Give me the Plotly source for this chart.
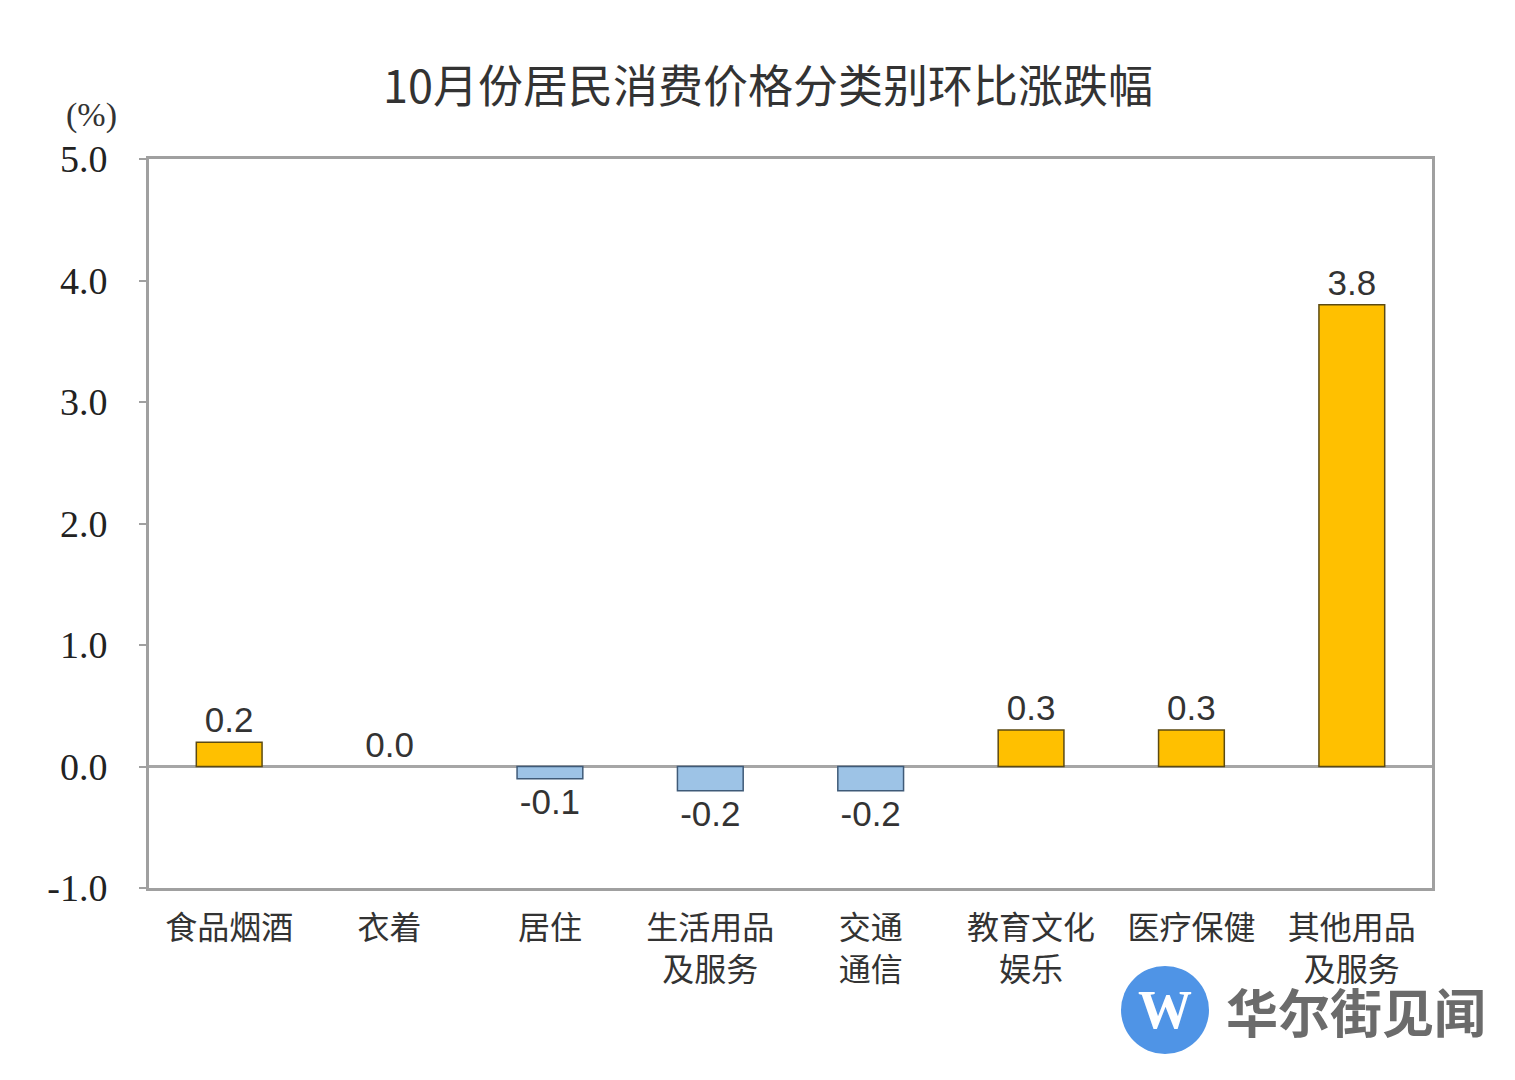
import plotly.graph_objects as go

categories = ["食品烟酒", "衣着", "居住", "生活用品<br>及服务", "交通<br>通信", "教育文化<br>娱乐", "医疗保健", "其他用品<br>及服务"]
values = [0.2, 0.0, -0.1, -0.2, -0.2, 0.3, 0.3, 3.8]
y_ticks = [-1.0, 0.0, 1.0, 2.0, 3.0, 4.0, 5.0]
y_tick_labels = ["-1.0", "0.0", "1.0", "2.0", "3.0", "4.0", "5.0"]
title_text = "10月份居民消费价格分类别环比涨跌幅"

fill_colors = ["#FFC000" if v >= 0 else "#9DC3E6" for v in values]
line_colors = ["#5c4a12" if v >= 0 else "#3f5a78" for v in values]
line_widths = [0 if v == 0 else 1.5 for v in values]

fig = go.Figure()
fig.add_trace(go.Bar(
    x=categories, y=values,
    width=0.41,
    marker=dict(color=fill_colors, line=dict(color=line_colors, width=line_widths)),
    text=[f"{v:.1f}" for v in values],
    textposition="outside",
    textfont=dict(family="Liberation Sans, Arial", size=35, color="#333333"),
    cliponaxis=False,
))

fig.update_layout(
    width=1515, height=1080,
    margin=dict(l=149, r=83, t=159, b=192),
    paper_bgcolor="white", plot_bgcolor="white",
    showlegend=False,
    bargap=0.59,
    title=dict(text=title_text, x=0.4825, xref="paper", y=1 - 87/1080, yref="container",
               xanchor="center", yanchor="middle",
               font=dict(family="Noto Sans CJK SC", size=45, color="#333333")),
    xaxis=dict(
        showline=True, mirror=True, linecolor="#a0a0a0", linewidth=3,
        showgrid=False, ticks="", ticklabelstandoff=10,
        tickfont=dict(family="Noto Sans CJK SC", size=32, color="#333333"),
    ),
    yaxis=dict(
        range=[-1, 5], tickvals=y_ticks, ticktext=y_tick_labels,
        showline=True, mirror=True, linecolor="#a0a0a0", linewidth=3,
        showgrid=False, zeroline=True, zerolinecolor="#a6a6a6", zerolinewidth=2.5,
        ticks="outside", ticklen=7, tickcolor="#a0a0a0", tickwidth=1.5,
        ticklabelstandoff=24,
        tickfont=dict(family="Liberation Serif, Times New Roman", size=38, color="#222222"),
    ),
    annotations=[
        dict(text="(%)", xref="paper", yref="paper", x=(91-149)/1283, y=(888-115)/729,
             xanchor="center", yanchor="middle", showarrow=False,
             font=dict(family="Liberation Serif, Times New Roman", size=34, color="#333333")),
        dict(text="<b>W</b>", xref="paper", yref="paper", x=(1165-149)/1283, y=(888-1010)/729,
             xanchor="center", yanchor="middle", showarrow=False,
             font=dict(family="Liberation Serif", size=54, color="white")),
        dict(text="<b>华尔街见闻</b>", xref="paper", yref="paper", x=(1356-149)/1283, y=(888-1010)/729,
             xanchor="center", yanchor="middle", showarrow=False,
             font=dict(family="Noto Sans CJK SC", size=52, color="#6b6b6b")),
    ],
    shapes=[
        dict(type="circle", xref="paper", yref="paper", xsizemode="pixel", ysizemode="pixel",
             xanchor=(1165-149)/1283, yanchor=(888-1010)/729,
             x0=-44, x1=44, y0=-44, y1=44,
             fillcolor="#4f94e6", line=dict(width=0), layer="below"),
    ],
)

fig.write_html("out.html")
